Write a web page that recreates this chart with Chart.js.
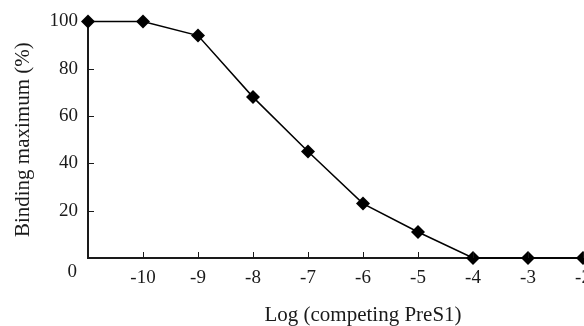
<!DOCTYPE html>
<html>
<head>
<meta charset="utf-8">
<script src="https://cdn.jsdelivr.net/npm/chart.js@4/dist/chart.umd.min.js"></script>
<style>
html, body { margin: 0; padding: 0; overflow: hidden; background: #fff; }
#wrap { width: 660px; height: 326px; }
</style>
</head>
<body>
<div id="wrap"><canvas id="c" width="660" height="326"></canvas></div>
<script>
const logConc = [-11, -10, -9, -8, -7, -6, -5, -4, -3, -2];
const bindingMax = [100, 100, 94, 68, 45, 23, 11, 0, 0, 0];
const yTicks = [0, 20, 40, 60, 80, 100];
const xTickLabels = [-10, -9, -8, -7, -6, -5, -4, -3, -2];
const xTitle = 'Log (competing PreS1)';
const yTitle = 'Binding maximum (%)';

const FONT = "'Liberation Serif', 'DejaVu Serif', serif";
const INK = '#1a1a1a';

const innerTicks = {
  id: 'innerTicks',
  afterDraw(chart) {
    const ctx = chart.ctx;
    const xs = chart.scales.x, ys = chart.scales.y;
    const a = chart.chartArea;
    ctx.save();
    ctx.strokeStyle = INK;
    ctx.lineWidth = 1;
    ctx.beginPath();
    yTicks.forEach(v => {
      if (v === 0 || v === 100) return;
      const py = Math.round(ys.getPixelForValue(v)) + 0.5;
      ctx.moveTo(a.left, py);
      ctx.lineTo(a.left + 6, py);
    });
    xTickLabels.forEach(v => {
      const px = Math.round(xs.getPixelForValue(v)) + 0.5;
      ctx.moveTo(px, a.bottom);
      ctx.lineTo(px, a.bottom - 6);
    });
    ctx.stroke();
    // zero label of the y axis, set lower than the axis as in the original
    ctx.fillStyle = INK;
    ctx.font = '19px ' + FONT;
    ctx.textAlign = 'right';
    ctx.textBaseline = 'middle';
    ctx.fillText(String(yTicks[0]), a.left - 11, ys.getPixelForValue(0) + 14);
    ctx.restore();
  }
};

new Chart(document.getElementById('c'), {
  type: 'line',
  data: {
    datasets: [{
      data: logConc.map((x, i) => ({ x: x, y: bindingMax[i] })),
      borderColor: '#000',
      borderWidth: 1.5,
      backgroundColor: '#000',
      pointStyle: 'rectRot',
      pointRadius: 7,
      pointBorderWidth: 0,
      pointBackgroundColor: '#000',
      tension: 0,
      clip: false
    }]
  },
  options: {
    responsive: false,
    animation: false,
    events: [],
    layout: { padding: { top: 21, right: 22, left: 0, bottom: 0 } },
    plugins: { legend: { display: false }, tooltip: { enabled: false } },
    scales: {
      x: {
        type: 'linear',
        min: -11, max: -1,
        afterFit(s) { s.height = 68; },
        grid: { drawOnChartArea: false, drawTicks: false },
        border: { display: true, color: INK, width: 2, dash: [3, 1] },
        ticks: {
          stepSize: 1,
          padding: 9,
          color: INK,
          font: { family: FONT, size: 19 },
          callback: v => xTickLabels.includes(v) ? String(v) : ''
        },
        title: {
          display: true, text: xTitle, color: INK,
          font: { family: FONT, size: 21, lineHeight: 1 },
          padding: { top: 0, bottom: 0 }
        }
      },
      y: {
        min: 0, max: 100,
        afterFit(s) { s.width = 88; },
        grid: { drawOnChartArea: false, drawTicks: false },
        border: { display: true, color: INK, width: 2, dash: [3, 1] },
        ticks: {
          stepSize: 20,
          padding: 10,
          color: INK,
          font: { family: FONT, size: 19 },
          callback: v => (v !== 0 && yTicks.includes(v)) ? String(v) : ''
        },
        title: {
          display: true, text: yTitle, color: INK,
          font: { family: FONT, size: 21, lineHeight: 1.2 },
          padding: { top: 11, bottom: 0 }
        }
      }
    }
  },
  plugins: [innerTicks]
});
</script>
</body>
</html>
